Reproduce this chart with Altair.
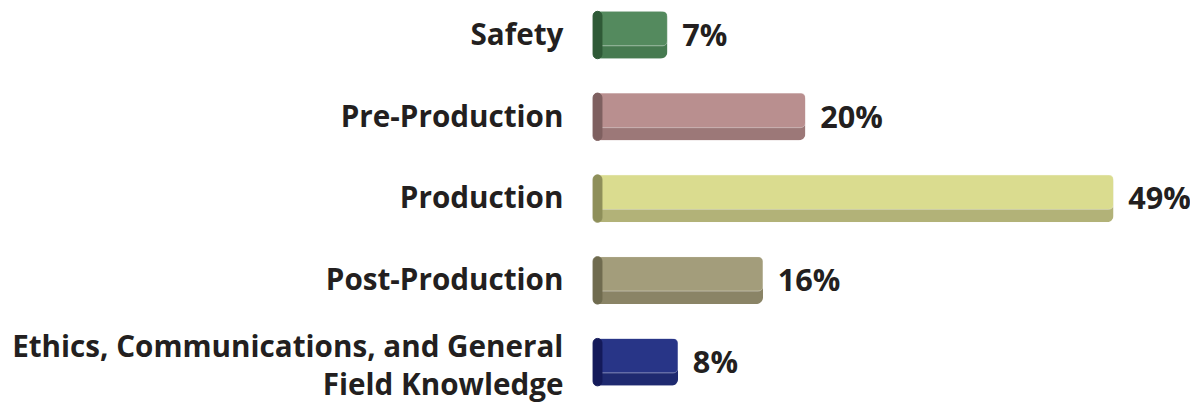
import altair as alt
import pandas as pd

categories = ["Safety", "Pre-Production", "Production", "Post-Production",
              "Ethics, Communications, and General|Field Knowledge"]
values = [7, 20, 49, 16, 8]
labels = ["7%", "20%", "49%", "16%", "8%"]

main_colors = ["#548a5e", "#b98f8f", "#dadc8f", "#a39d7b", "#283587"]
bottom_colors = ["#467a50", "#9c7878", "#b2b278", "#8a8466", "#1f2a70"]
left_colors = ["#2f5a37", "#7e6060", "#8e8f5a", "#6f6b4f", "#141a5a"]

df = pd.DataFrame({"category": categories, "value": values, "label": labels})

FONT = "Open Sans"

y_enc = alt.Y("category:N", sort=categories,
              scale=alt.Scale(paddingInner=0.42, paddingOuter=0), axis=None)
x_enc = alt.X("value:Q", scale=alt.Scale(domain=[0, 56.2], nice=False), axis=None)

base = alt.Chart(df)

bottom = base.mark_bar(cornerRadius=7, size=48).encode(
    y=y_enc, x=x_enc,
    color=alt.Color("category:N", scale=alt.Scale(domain=categories, range=bottom_colors), legend=None))

top = base.mark_bar(cornerRadius=5, size=35, yOffset=-6.5, stroke="#ffffff",
                    strokeOpacity=0.3, strokeWidth=1).encode(
    y=y_enc, x=x_enc,
    fill=alt.Fill("category:N", scale=alt.Scale(domain=categories, range=main_colors), legend=None))

left = base.mark_rect(cornerRadius=5, height=48).encode(
    y=y_enc, x=alt.value(0), x2=alt.value(9),
    stroke=alt.Stroke("category:N", scale=alt.Scale(domain=categories, range=left_colors), legend=None),
    fill=alt.Fill("category:N", scale=alt.Scale(domain=categories, range=left_colors), legend=None),
)

text = base.mark_text(align="left", baseline="middle", dx=15, dy=2,
                      font=FONT, fontSize=31, fontWeight="bold", color="#231f20").encode(
    y=y_enc, x=x_enc, text="label:N")

cat_text = base.transform_calculate(
    lines="split(datum.category, '|')",
    off="24 - (length(split(datum.category, '|')) - 1) * 15",
).mark_text(
    align="right", baseline="middle", dx=-30, dy=1, lineHeight=38,
    font=FONT, fontSize=30, fontWeight="bold", color="#231f20").encode(
    y=y_enc, x=alt.value(0), text="lines:N",
    yOffset=alt.YOffset("off:Q", scale=None))

chart = alt.layer(bottom, top, left, text, cat_text).resolve_scale(
    color="independent", fill="independent", stroke="independent").properties(
    width=604, height=379,
    autosize=alt.AutoSizeParams(type="none"),
    padding={"left": 592, "top": 1, "right": 0, "bottom": 14},
).configure(background="white").configure_view(stroke=None)

chart.save("out.html", embed_options={"renderer": "svg", "actions": False})
